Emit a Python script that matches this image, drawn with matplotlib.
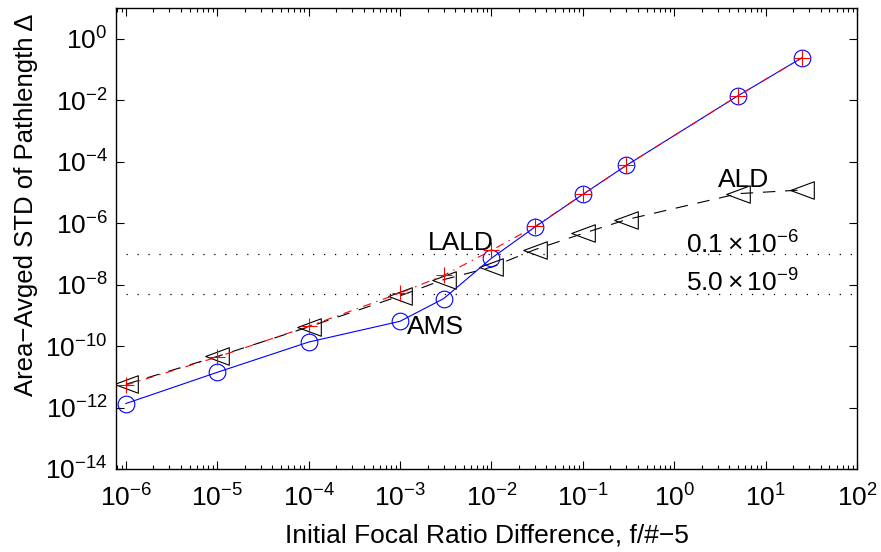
import numpy as np
import matplotlib
matplotlib.use("Agg")
import matplotlib.pyplot as plt
from matplotlib.path import Path
from matplotlib.ticker import LogLocator, NullLocator

# Initial focal ratio difference (f/# - 5)
focal_diff = [1e-6, 1e-5, 1e-4, 1e-3, 3e-3, 1e-2, 3e-2, 1e-1, 3e-1, 5.0, 25.0]

# Area-averaged STD of pathlength for each method
ams = [1.35e-12, 1.4e-11, 1.35e-10, 6.4e-10, 3.5e-9, 7.2e-8, 7.5e-7, 8.6e-6, 7.6e-5, 1.4e-2, 0.24]
lald = [5.4e-12, 4.4e-11, 4.4e-10, 5.3e-9, 2.0e-8, 1.3e-7, 7.8e-7, 8.6e-6, 7.6e-5, 1.4e-2, 0.24]
ald = [5.7e-12, 4.6e-11, 4.2e-10, 4.3e-9, 1.45e-8, 3.7e-8, 1.38e-7, 4.6e-7, 1.3e-6, 9.1e-6, 1.2e-5]

# Reference tolerance levels
thresholds = [1e-7, 5e-9]
threshold_labels = [r"$0.1\times10^{-6}$", r"$5.0\times10^{-9}$"]

x_ticks = [1e-6, 1e-5, 1e-4, 1e-3, 1e-2, 1e-1, 1e0, 1e1, 1e2]
y_ticks = [1e-14, 1e-12, 1e-10, 1e-8, 1e-6, 1e-4, 1e-2, 1e0]

plt.rcParams["font.family"] = ["Liberation Sans", "DejaVu Sans"]
plt.rcParams["mathtext.fontset"] = "custom"
plt.rcParams["mathtext.rm"] = "Liberation Sans"
plt.rcParams["mathtext.it"] = "Liberation Sans:italic"
plt.rcParams["mathtext.default"] = "regular"
plt.rcParams["lines.scale_dashes"] = False

W, H = 881, 552
fig = plt.figure(figsize=(W / 100, H / 100), dpi=100)
ax = fig.add_axes([116 / W, 1 - 469 / H, (857 - 116) / W, (469 - 8) / H])

# left-pointing triangle, wider than tall
tri = Path([(-1.0, 0.0), (1.0, 0.74), (1.0, -0.74), (-1.0, 0.0)],
           [Path.MOVETO, Path.LINETO, Path.LINETO, Path.CLOSEPOLY])

lw = 0.8
ax.plot(focal_diff, ald, color="black", lw=lw, dashes=(9, 7),
        marker=tri, ms=17, mfc="none", mec="black", mew=lw)
ax.plot(focal_diff, ams, color="blue", lw=lw, ls="-",
        marker="o", ms=12, mfc="none", mec="blue", mew=lw)
ax.plot(focal_diff, lald, color="red", lw=lw, dashes=(6, 4, 1, 4),
        marker="+", ms=12, mec="red", mew=lw)

for t in thresholds:
    ax.plot([focal_diff[0], x_ticks[-1]], [t, t], color="black", lw=0.9,
            dashes=(0.9, 7.0))

ax.set_xscale("log")
ax.set_yscale("log")
ax.set_xlim(7.8e-7, 1e2)
ax.set_ylim(1e-14, 1e1)
ax.set_xticks(x_ticks)
ax.set_yticks(y_ticks)
ax.xaxis.set_minor_locator(LogLocator(base=10, subs=np.arange(2, 10), numticks=30))
ax.yaxis.set_minor_locator(NullLocator())

ax.tick_params(which="both", direction="in", top=True, right=True, width=0.8)
ax.tick_params(which="major", length=5.5, labelsize=19)
ax.tick_params(which="minor", length=2.6)
ax.tick_params(axis="x", which="major", pad=11)
ax.tick_params(axis="y", which="major", pad=6)
for s in ax.spines.values():
    s.set_linewidth(1.0)

ax.set_xlabel("Initial Focal Ratio Difference, f/#\u22125", fontsize=19, labelpad=9)
ax.set_ylabel("Area\u2212Avged STD of Pathlength \u0394", fontsize=18.5, labelpad=6)
ax.yaxis.set_label_coords(-0.105, 0.573)

fs = 19
ax.text(2.0e-3, 2.2e-7, "LALD", fontsize=fs, ha="left", va="center")
ax.text(1.2e-3, 4.3e-10, "AMS", fontsize=fs, ha="left", va="center")
ax.text(3.0, 2.5e-5, "ALD", fontsize=fs, ha="left", va="center")
ax.text(1.35, 2.0e-7, threshold_labels[0], fontsize=fs, ha="left", va="center")
ax.text(1.35, 1.1e-8, threshold_labels[1], fontsize=fs, ha="left", va="center")

fig.savefig("out.png", dpi=100)
